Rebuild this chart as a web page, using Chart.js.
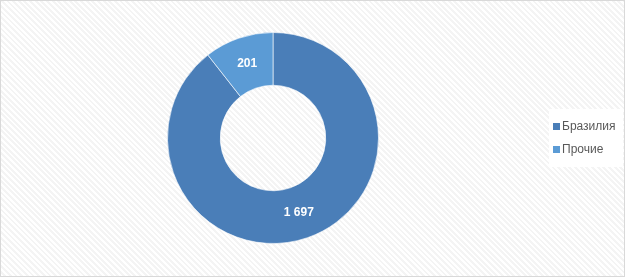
<!DOCTYPE html>
<html>
<head>
<meta charset="utf-8">
<script src="https://cdn.jsdelivr.net/npm/chart.js@4/dist/chart.umd.min.js"></script>
<style>
  html, body { margin: 0; padding: 0; }
  body {
    width: 625px; height: 277px; overflow: hidden;
    background: #fff;
  }
  #wrap {
    position: relative; width: 623px; height: 275px;
    border: 1px solid #d9d9d9;
    background: repeating-linear-gradient(45deg, #ffffff 0px, #ffffff 2px, #f4f4f4 2px, #f4f4f4 4px);
  }
  #legend-bg {
    position: absolute; left: 548px; top: 108px; width: 74px; height: 58px;
    background: #fff;
  }
  canvas { position: absolute; left: 0; top: 0; }
</style>
</head>
<body>
<div id="wrap">
  <div id="legend-bg"></div>
  <canvas id="chart" width="623" height="275"></canvas>
</div>
<script>
const categories = ['Бразилия', 'Прочие'];
const values = [1697, 201];
const valueLabels = ['1 697', '201'];
const colors = ['#4a7eb8', '#5b9bd5'];

// Slice labels + legend drawn by hand so the doughnut keeps its place
const labelPlugin = {
  id: 'labelPlugin',
  afterDraw(chart) {
    const ctx = chart.ctx;
    const meta = chart.getDatasetMeta(0);
    ctx.save();
    ctx.font = 'bold 12px "Liberation Sans", Arial, sans-serif';
    ctx.fillStyle = '#ffffff';
    ctx.textAlign = 'center';
    ctx.textBaseline = 'middle';
    meta.data.forEach((arc, i) => {
      const p = arc.tooltipPosition();
      ctx.fillText(valueLabels[i], p.x, p.y);
    });

    // legend
    ctx.font = '12px "Liberation Sans", Arial, sans-serif';
    ctx.textAlign = 'left';
    categories.forEach((c, i) => {
      const y = 125 + i * 23;
      ctx.fillStyle = colors[i];
      ctx.fillRect(552, y - 3, 7, 7);
      ctx.fillStyle = '#595959';
      ctx.fillText(c, 561, y + 1);
    });
    ctx.restore();
  }
};

new Chart(document.getElementById('chart').getContext('2d'), {
  type: 'doughnut',
  data: {
    labels: categories,
    datasets: [{
      data: values,
      backgroundColor: colors,
      borderColor: 'rgba(255,255,255,0.6)',
      borderWidth: 1
    }]
  },
  options: {
    responsive: false,
    animation: false,
    cutout: '50%',
    layout: { padding: { top: 31, bottom: 32, left: 166, right: 245 } },
    plugins: {
      legend: { display: false },
      tooltip: { enabled: false }
    }
  },
  plugins: [labelPlugin]
});
</script>
</body>
</html>
